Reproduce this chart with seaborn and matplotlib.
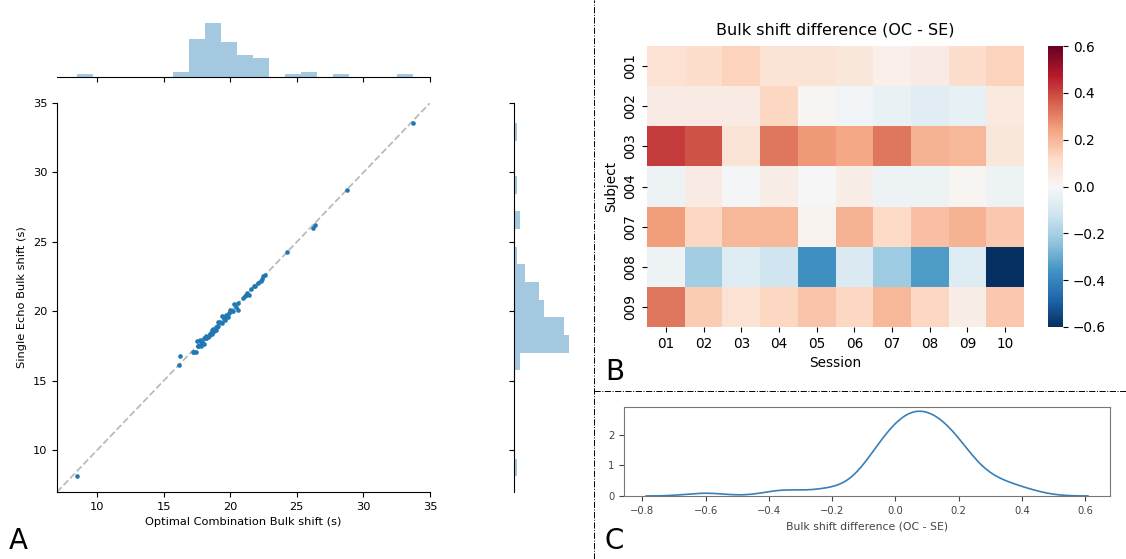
import numpy as np
import pandas as pd
import matplotlib
matplotlib.use("Agg")
import matplotlib.pyplot as plt
from matplotlib.lines import Line2D
import seaborn as sns

# ---------------- data ----------------
subjects = ["001", "002", "003", "004", "007", "008", "009"]
sessions = ["01", "02", "03", "04", "05", "06", "07", "08", "09", "10"]

# Bulk shift difference (OC - SE), rows = subjects, cols = sessions
diff_001 = [0.09, 0.11, 0.14, 0.08, 0.08, 0.07, 0.03, 0.05, 0.11, 0.14]
diff_002 = [0.05, 0.05, 0.05, 0.13, 0.01, -0.02, -0.04, -0.07, -0.05, 0.06]
diff_003 = [0.42, 0.38, 0.08, 0.32, 0.26, 0.23, 0.32, 0.21, 0.20, 0.07]
diff_004 = [-0.03, 0.05, -0.01, 0.04, 0.00, 0.04, -0.03, -0.03, 0.01, -0.03]
diff_007 = [0.25, 0.13, 0.20, 0.20, 0.02, 0.21, 0.12, 0.18, 0.21, 0.16]
diff_008 = [-0.03, -0.21, -0.08, -0.12, -0.37, -0.09, -0.22, -0.34, -0.08, -0.60]
diff_009 = [0.32, 0.15, 0.09, 0.13, 0.17, 0.13, 0.20, 0.13, 0.04, 0.16]

# Optimal combination bulk shift (s)
oc_001 = [18.2, 18.6, 19.1, 17.6, 18.45, 21.9, 24.3, 18.9, 17.9, 33.7]
oc_002 = [20.1, 19.58, 21.0, 20.45, 19.9, 19.2, 21.3, 20.0, 18.7, 19.5]
oc_003 = [20.55, 8.5, 18.15, 17.8, 18.6, 17.3, 18.0, 21.4, 26.2, 17.6]
oc_004 = [21.8, 22.4, 22.6, 16.15, 21.2, 22.1, 21.6, 22.5, 20.6, 21.1]
oc_007 = [18.9, 19.0, 18.4, 19.4, 18.2, 17.9, 18.5, 19.8, 19.6, 26.4]
oc_008 = [19.7, 20.3, 18.0, 19.1, 17.5, 18.6, 17.7, 19.35, 18.15, 16.2]
oc_009 = [17.4, 18.3, 17.2, 18.7, 20.2, 17.9, 18.8, 22.3, 28.8, 17.8]

diff = pd.DataFrame([diff_001, diff_002, diff_003, diff_004, diff_007, diff_008, diff_009],
                    index=subjects, columns=sessions)
oc = pd.DataFrame([oc_001, oc_002, oc_003, oc_004, oc_007, oc_008, oc_009],
                  index=subjects, columns=sessions)
se = oc - diff

long = pd.DataFrame({
    "oc": oc.values.ravel(),
    "se": se.values.ravel(),
    "diff": diff.values.ravel(),
})

# ---------------- figure ----------------
W, H = 1126, 559
fig = plt.figure(figsize=(W / 100, H / 100), dpi=100)

def ax_px(x0, y0, x1, y1):
    return fig.add_axes([x0 / W, 1 - y1 / H, (x1 - x0) / W, (y1 - y0) / H])

ax_main = ax_px(57, 103, 430, 492)
ax_top = ax_px(57, 20, 430, 77)
ax_right = ax_px(514, 103, 572, 492)
ax_heat = ax_px(647, 46, 1024, 327)
ax_cbar = ax_px(1048, 46, 1063, 327)
ax_kde = ax_px(624, 407, 1110, 496)

# ---- panel A ----
fs_a = 8.2
ax_main.axline((10, 10), slope=1, color="#bbbbbb", ls="--", lw=1.3, zorder=1)
sns.scatterplot(data=long, x="oc", y="se", ax=ax_main, s=11, color="#1f77b4",
                linewidth=0, zorder=3)
ax_main.set_xlim(7, 35)
ax_main.set_ylim(7, 35)
ax_main.set_xticks([10, 15, 20, 25, 30, 35])
ax_main.set_yticks([10, 15, 20, 25, 30, 35])
ax_main.tick_params(labelsize=fs_a)
ax_main.set_xlabel("Optimal Combination Bulk shift (s)", fontsize=fs_a)
ax_main.set_ylabel("Single Echo Bulk shift (s)", fontsize=fs_a)
sns.despine(ax=ax_main)

sns.histplot(data=long, x="oc", bins=21, ax=ax_top, color="#1f77b4", alpha=0.4,
             edgecolor="none", linewidth=0)
ax_top.set_xlim(7, 35)
ax_top.set_xticks([10, 15, 20, 25, 30, 35])
ax_top.tick_params(labelbottom=False, left=False, labelleft=False)
ax_top.set_xlabel("")
ax_top.set_ylabel("")
sns.despine(ax=ax_top, left=True)

sns.histplot(data=long, y="se", bins=20, ax=ax_right, color="#1f77b4", alpha=0.4,
             edgecolor="none", linewidth=0)
ax_right.set_ylim(7, 35)
ax_right.set_yticks([10, 15, 20, 25, 30, 35])
ax_right.tick_params(labelleft=False, bottom=False, labelbottom=False)
ax_right.set_xlabel("")
ax_right.set_ylabel("")
sns.despine(ax=ax_right, bottom=True)

# ---- panel B ----
fs_b = 9.8
sns.heatmap(diff, cmap="RdBu_r", vmin=-0.6, vmax=0.6, ax=ax_heat, cbar_ax=ax_cbar)
ax_heat.set_title("Bulk shift difference (OC - SE)", fontsize=11.5, pad=8)
ax_heat.set_xlabel("Session", fontsize=fs_b)
ax_heat.set_ylabel("Subject", fontsize=fs_b)
ax_heat.tick_params(labelsize=fs_b)
plt.setp(ax_heat.get_yticklabels(), rotation=90, va="center")
plt.setp(ax_heat.get_xticklabels(), rotation=0)
ax_cbar.set_yticks([-0.6, -0.4, -0.2, 0.0, 0.2, 0.4, 0.6])
ax_cbar.tick_params(labelsize=fs_b)

# ---- panel C ----
c_col = "#444444"
sns.kdeplot(data=long, x="diff", ax=ax_kde, color="#3a7fb5", lw=1.2, bw_adjust=0.88)
ax_kde.set_ylabel("")
ax_kde.set_xlabel("Bulk shift difference (OC - SE)", fontsize=7.8, color=c_col)
ax_kde.set_xticks([-0.8, -0.6, -0.4, -0.2, 0.0, 0.2, 0.4, 0.6])
ax_kde.set_yticks([0, 1, 2])
ax_kde.tick_params(labelsize=7.2, colors=c_col)
for sp in ax_kde.spines.values():
    sp.set_color("#777777")
    sp.set_linewidth(0.8)

# ---- separators and panel letters ----
fig.add_artist(Line2D([594 / W, 594 / W], [0, 1], color="black", lw=0.7, ls="-."))
fig.add_artist(Line2D([594 / W, 1], [1 - 391 / H, 1 - 391 / H], color="black", lw=0.7, ls="-."))
fig.text(9 / W, 1 - 555 / H, "A", fontsize=20, va="bottom", ha="left")
fig.text(605 / W, 1 - 386 / H, "B", fontsize=20, va="bottom", ha="left")
fig.text(605 / W, 1 - 555 / H, "C", fontsize=20, va="bottom", ha="left")

fig.savefig("out.png", dpi=100)
